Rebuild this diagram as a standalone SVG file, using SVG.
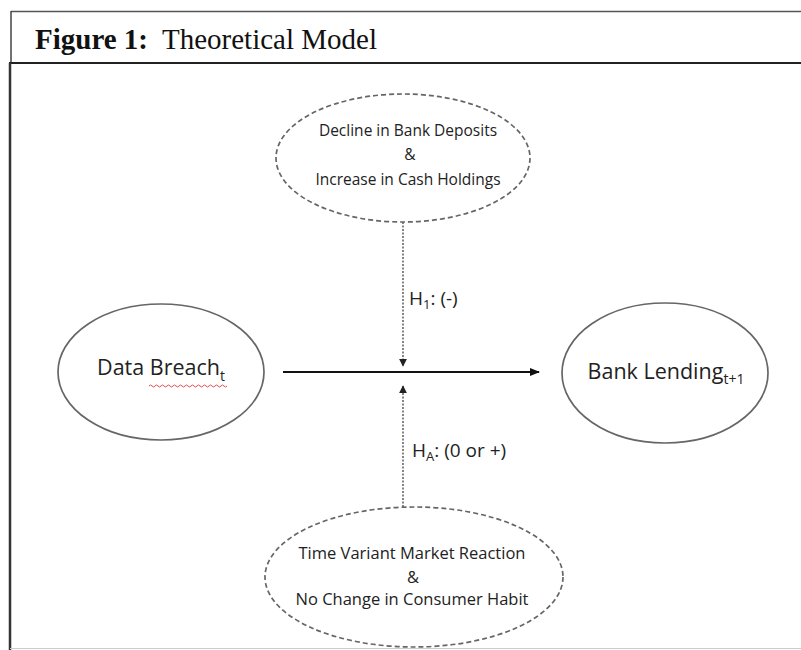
<svg xmlns="http://www.w3.org/2000/svg" width="801" height="650" viewBox="0 0 801 650">
<defs>
<style>
.t{font-family:"Open Sans","Noto Sans","Liberation Sans",sans-serif;fill:#222;text-anchor:middle}
.solid{fill:none;stroke:#666;stroke-width:1.7}
.dash{fill:none;stroke:#666;stroke-width:1.7;stroke-dasharray:5 3}
.dot{fill:none;stroke:#666;stroke-width:1.6;stroke-dasharray:2 1.5}
</style>
<marker id="ah" viewBox="0 0 10 10" refX="9" refY="5" markerWidth="10" markerHeight="10" markerUnits="userSpaceOnUse" orient="auto">
<path d="M0,1 L10,5 L0,9 Z" fill="#111"/>
</marker>
<marker id="ahs" viewBox="0 0 10 10" refX="9" refY="5" markerWidth="8" markerHeight="8" markerUnits="userSpaceOnUse" orient="auto">
<path d="M0,0 L10,5 L0,10 Z" fill="#222"/>
</marker>
</defs>
<rect width="801" height="650" fill="#fff"/>
<g id="frame">
<line x1="11" y1="11.5" x2="801" y2="11.5" stroke="#555" stroke-width="1.5"/>
<line x1="11" y1="11" x2="11" y2="63" stroke="#444" stroke-width="1.5"/>
<line x1="9" y1="63" x2="801" y2="63" stroke="#222" stroke-width="2.2"/>
<line x1="10" y1="63" x2="10" y2="650" stroke="#333" stroke-width="2.5"/>
<line x1="10" y1="648.5" x2="801" y2="648.5" stroke="#ccc" stroke-width="1"/>
<text x="35" y="49" font-family="'Liberation Serif','Times New Roman',serif" font-size="29" fill="#111"><tspan font-weight="bold">Figure 1:</tspan><tspan xml:space="preserve">  Theoretical Model</tspan></text>
</g>
<g id="connectors">
<line x1="283" y1="372" x2="539" y2="372" stroke="#111" stroke-width="2" marker-end="url(#ah)"/>
<line class="dot" x1="403" y1="222" x2="403" y2="366" marker-end="url(#ahs)"/>
<line class="dot" x1="403" y1="507" x2="403" y2="386" marker-end="url(#ahs)"/>
<text class="t" x="409" y="305" font-size="19" style="text-anchor:start">H<tspan font-size="13" dy="4">1</tspan><tspan dy="-4">: (-)</tspan></text>
<text class="t" x="412" y="457" font-size="19" style="text-anchor:start">H<tspan font-size="13" dy="4">A</tspan><tspan dy="-4">: (0 or +)</tspan></text>
</g>
<g id="top-node">
<ellipse class="dash" cx="403" cy="158" rx="127" ry="64"/>
<text class="t" x="408" y="136" font-size="15.5">Decline in Bank Deposits</text>
<text class="t" x="410" y="160" font-size="15.5">&amp;</text>
<text class="t" x="408" y="185" font-size="15.5">Increase in Cash Holdings</text>
</g>
<g id="data-breach">
<ellipse class="solid" cx="161" cy="372" rx="103" ry="68"/>
<text class="t" x="161" y="375" font-size="21.5">Data Breach<tspan font-size="14" dy="6">t</tspan></text>
<path d="M149,386 q1.5,-2 3,0 t3,0 t3,0 t3,0 t3,0 t3,0 t3,0 t3,0 t3,0 t3,0 t3,0 t3,0 t3,0 t3,0 t3,0 t3,0 t3,0 t3,0 t3,0 t3,0 t3,0 t3,0 t3,0 t3,0 t3,0 t3,0" fill="none" stroke="#e05050" stroke-width="1"/>
</g>
<g id="bank-lending">
<ellipse class="solid" cx="665" cy="373" rx="103" ry="70"/>
<text class="t" x="666" y="379" font-size="21.5">Bank Lending<tspan font-size="14" dy="5">t+1</tspan></text>
</g>
<g id="bottom-node">
<ellipse class="dash" cx="414" cy="577" rx="149" ry="70"/>
<text class="t" x="412" y="559" font-size="16.5">Time Variant Market Reaction</text>
<text class="t" x="413" y="583" font-size="16.5">&amp;</text>
<text class="t" x="412" y="605" font-size="16.5">No Change in Consumer Habit</text>
</g>
</svg>
